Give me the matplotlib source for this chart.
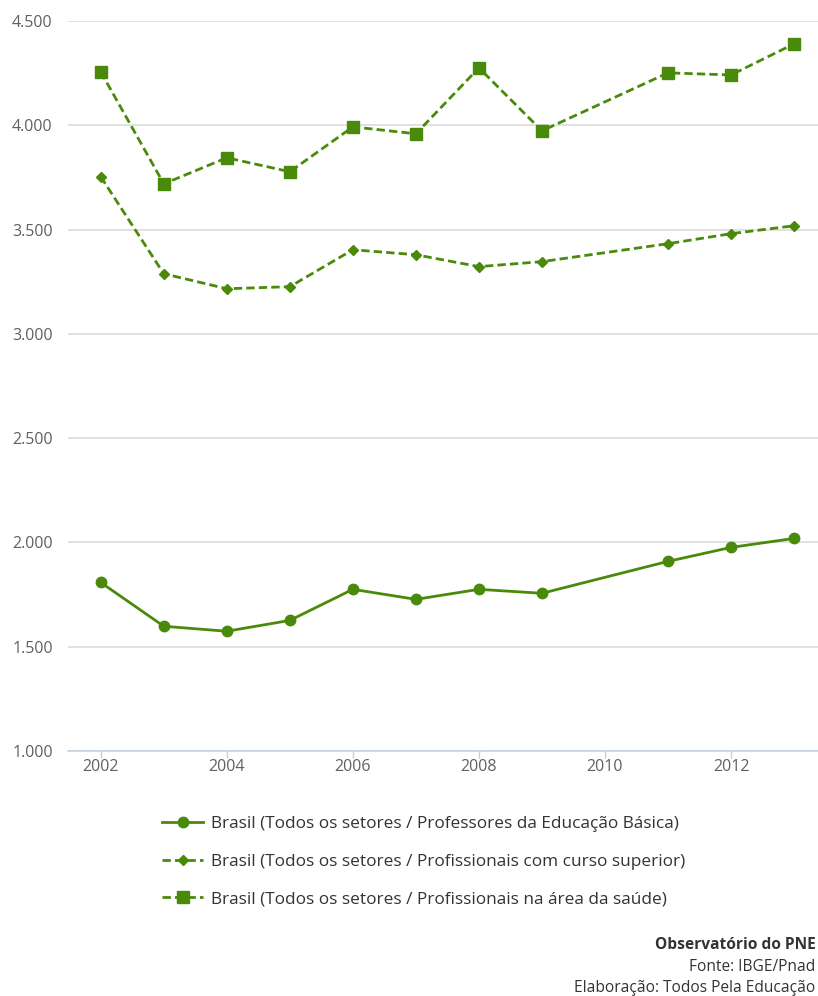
import matplotlib.pyplot as plt
from matplotlib.ticker import FuncFormatter

plt.rcParams['font.family'] = ['Open Sans', 'DejaVu Sans']

years = [2002, 2003, 2004, 2005, 2006, 2007, 2008, 2009, 2011, 2012, 2013]
professores = [1808, 1598, 1574, 1626, 1775, 1727, 1775, 1756, 1909, 1976, 2019]
superior = [3753, 3288, 3216, 3226, 3403, 3379, 3322, 3346, 3432, 3480, 3518]
saude = [4256, 3719, 3844, 3777, 3992, 3959, 4275, 3973, 4251, 4241, 4390]

labels = [
    'Brasil (Todos os setores / Professores da Educação Básica)',
    'Brasil (Todos os setores / Profissionais com curso superior)',
    'Brasil (Todos os setores / Profissionais na área da saúde)',
]

GREEN = '#4a8a0b'

fig = plt.figure(figsize=(8.18, 9.96), dpi=100)
ax = fig.add_axes([0.0831, 0.246, 0.9169, 0.733])

l1, = ax.plot(years, professores, color=GREEN, lw=2.0, marker='o', ms=7.5,
              label=labels[0])
l2, = ax.plot(years, superior, color=GREEN, lw=2.0, ls=(0, (3, 1.5)), marker='D',
              ms=5.5, label=labels[1])
l3, = ax.plot(years, saude, color=GREEN, lw=2.0, ls=(0, (3, 1.5)), marker='s',
              ms=8, label=labels[2])

ax.set_xlim(2001.48, 2013.38)
ax.set_ylim(1000, 4500)
ax.set_yticks(range(1000, 4501, 500))
ax.set_xticks(range(2002, 2013, 2))
ax.yaxis.set_major_formatter(FuncFormatter(lambda v, p: f'{v/1000:.3f}'))
ax.grid(axis='y', color='#d8d8d8', lw=1.1)
ax.set_axisbelow(True)
for s in ['top', 'right', 'left']:
    ax.spines[s].set_visible(False)
ax.spines['bottom'].set_color('#c0d0e0')
ax.spines['bottom'].set_linewidth(1.1)
ax.tick_params(axis='y', length=0, pad=11, labelsize=11.5, labelcolor='#606060')
ax.tick_params(axis='x', length=5, color='#c0d0e0', width=1, pad=1,
               labelsize=11.5, labelcolor='#606060')

leg = fig.legend(handles=[l1, l2, l3], loc='upper left',
                 bbox_to_anchor=(0.198, 0.1805), frameon=False,
                 borderaxespad=0, borderpad=0,
                 fontsize=12.4, handlelength=2.4, numpoints=1,
                 labelspacing=1.25, handletextpad=0.42, labelcolor='#333333')

fig.text(0.997, 0.0512, 'Observatório do PNE', ha='right', va='center',
         fontsize=11.2, fontweight='bold', color='#333333')
fig.text(0.997, 0.0291, 'Fonte: IBGE/Pnad', ha='right', va='center',
         fontsize=11.2, color='#333333')
fig.text(0.997, 0.0080, 'Elaboração: Todos Pela Educação', ha='right',
         va='center', fontsize=11.2, color='#333333')

fig.savefig('out.png', dpi=100)
